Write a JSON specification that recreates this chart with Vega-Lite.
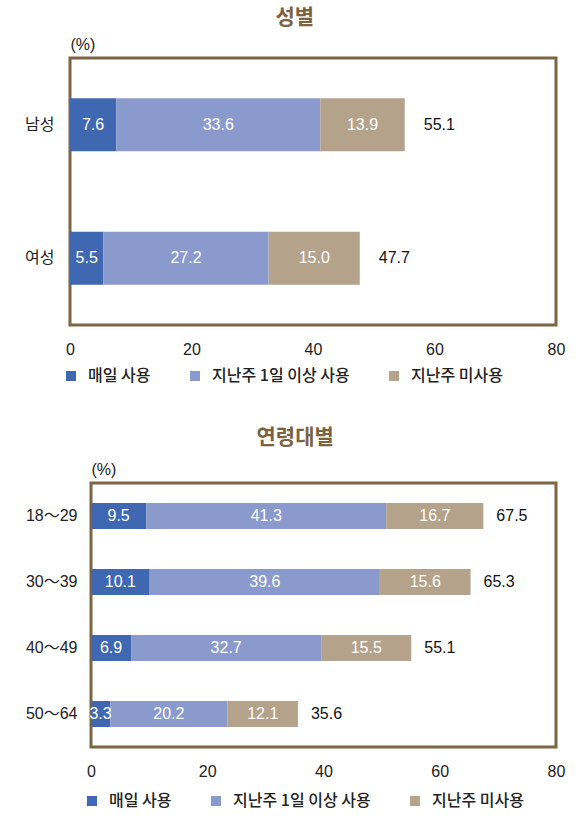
{
  "$schema": "https://vega.github.io/schema/vega-lite/v6.json",
  "padding": {"left": 16, "top": 5, "right": 5, "bottom": 5},
  "datasets": {
    "spacer": [{}],
    "gender": [
      {"group": "남성", "type": "매일 사용", "value": 7.6},
      {"group": "남성", "type": "지난주 1일 이상 사용", "value": 33.6},
      {"group": "남성", "type": "지난주 미사용", "value": 13.9},
      {"group": "여성", "type": "매일 사용", "value": 5.5},
      {"group": "여성", "type": "지난주 1일 이상 사용", "value": 27.2},
      {"group": "여성", "type": "지난주 미사용", "value": 15.0}
    ],
    "genderTotal": [
      {"group": "남성", "total": 55.1},
      {"group": "여성", "total": 47.7}
    ],
    "age": [
      {"group": "18～29", "type": "매일 사용", "value": 9.5},
      {"group": "18～29", "type": "지난주 1일 이상 사용", "value": 41.3},
      {"group": "18～29", "type": "지난주 미사용", "value": 16.7},
      {"group": "30～39", "type": "매일 사용", "value": 10.1},
      {"group": "30～39", "type": "지난주 1일 이상 사용", "value": 39.6},
      {"group": "30～39", "type": "지난주 미사용", "value": 15.6},
      {"group": "40～49", "type": "매일 사용", "value": 6.9},
      {"group": "40～49", "type": "지난주 1일 이상 사용", "value": 32.7},
      {"group": "40～49", "type": "지난주 미사용", "value": 15.5},
      {"group": "50～64", "type": "매일 사용", "value": 3.3},
      {"group": "50～64", "type": "지난주 1일 이상 사용", "value": 20.2},
      {"group": "50～64", "type": "지난주 미사용", "value": 12.1}
    ],
    "ageTotal": [
      {"group": "18～29", "total": 67.5},
      {"group": "30～39", "total": 65.3},
      {"group": "40～49", "total": 55.1},
      {"group": "50～64", "total": 35.6}
    ]
  },
  "config": {
    "font": "Liberation Sans, Noto Sans CJK KR",
    "view": {"stroke": "#7B6545", "strokeWidth": 3},
    "axis": {"grid": false, "domain": false, "ticks": false, "labelFontSize": 16, "labelColor": "#222222", "labelFont": "Liberation Sans, Noto Sans CJK KR"},
    "axisY": {"labelPadding": 16, "titleAngle": 0, "titleAlign": "left", "titleX": 0, "titleY": -14, "titleBaseline": "middle", "titleFontSize": 16, "titleFontWeight": "normal", "titleColor": "#222222"},
    "axisX": {"labelPadding": 16, "labelFlush": false},
    "title": {"fontSize": 21, "font": "Noto Sans CJK KR", "fontWeight": "bold", "color": "#7B6342", "anchor": "middle", "frame": "bounds", "offset": 8},
    "legend": {"orient": "none", "legendX": -7, "legendY": 310, "direction": "horizontal", "title": null, "padding": 0, "symbolType": "square", "symbolSize": 100, "symbolStrokeWidth": 0, "labelFontSize": 16, "labelFont": "Noto Sans CJK KR", "labelFontWeight": 500, "labelColor": "#222222", "labelOffset": 9, "columnPadding": 36}
  },
  "spacing": 39,
  "resolve": {"scale": {"color": "independent"}, "legend": {"color": "independent"}},
  "vconcat": [
    {
      "spacing": 0,
      "resolve": {"scale": {"color": "independent"}, "legend": {"color": "independent"}},
      "hconcat": [
        {
          "width": 1,
          "height": 1,
          "view": {"stroke": null},
          "data": {"name": "spacer"},
          "mark": {"type": "point", "opacity": 0},
          "encoding": {}
        },
        {
          "title": "성별",
          "width": 486,
          "height": 267,
          "data": {"name": "gender"},
          "encoding": {
            "y": {"field": "group", "type": "nominal", "sort": null, "title": "(%)", "scale": {"paddingInner": 0, "paddingOuter": 0}}
          },
          "layer": [
            {
              "mark": {"type": "bar", "size": 53},
              "encoding": {
                "x": {"field": "value", "type": "quantitative", "stack": "zero", "scale": {"domain": [0, 80], "nice": false}, "axis": {"values": [0, 20, 40, 60, 80], "title": null}},
                "color": {"field": "type", "type": "nominal", "scale": {"domain": ["매일 사용", "지난주 1일 이상 사용", "지난주 미사용"], "range": ["#4068B2", "#8A9ACC", "#B5A28A"]}},
                "order": {"field": "type", "type": "ordinal", "sort": "ascending"}
              }
            },
            {
              "mark": {"type": "text", "color": "white", "fontSize": 16, "baseline": "middle"},
              "encoding": {
                "x": {"field": "value", "type": "quantitative", "stack": "zero", "bandPosition": 0.5},
                "detail": {"field": "type"},
                "order": {"field": "type", "type": "ordinal", "sort": "ascending"},
                "text": {"field": "value", "type": "quantitative", "format": ".1f"}
              }
            },
            {
              "data": {"name": "genderTotal"},
              "mark": {"type": "text", "align": "left", "dx": 19, "fontSize": 16, "color": "#111111", "baseline": "middle"},
              "encoding": {
                "x": {"field": "total", "type": "quantitative"},
                "text": {"field": "total", "type": "quantitative", "format": ".1f"}
              }
            }
          ]
        }
      ]
    },
    {
      "spacing": 0,
      "resolve": {"scale": {"color": "independent"}, "legend": {"color": "independent"}},
      "hconcat": [
        {
          "width": 1,
          "height": 1,
          "view": {"stroke": null},
          "data": {"name": "spacer"},
          "mark": {"type": "point", "opacity": 0},
          "encoding": {}
        },
        {
          "title": {"text": "연령대별", "offset": 13},
          "width": 465,
          "height": 264,
          "data": {"name": "age"},
          "encoding": {
            "y": {"field": "group", "type": "nominal", "sort": null, "title": "(%)", "axis": {"labelPadding": 14}, "scale": {"paddingInner": 0, "paddingOuter": 0}}
          },
          "layer": [
            {
              "mark": {"type": "bar", "size": 26},
              "encoding": {
                "x": {"field": "value", "type": "quantitative", "stack": "zero", "scale": {"domain": [0, 80], "nice": false}, "axis": {"values": [0, 20, 40, 60, 80], "title": null}},
                "color": {"field": "type", "type": "nominal", "scale": {"domain": ["매일 사용", "지난주 1일 이상 사용", "지난주 미사용"], "range": ["#4068B2", "#8A9ACC", "#B5A28A"]}},
                "order": {"field": "type", "type": "ordinal", "sort": "ascending"}
              }
            },
            {
              "mark": {"type": "text", "color": "white", "fontSize": 16, "baseline": "middle"},
              "encoding": {
                "x": {"field": "value", "type": "quantitative", "stack": "zero", "bandPosition": 0.5},
                "detail": {"field": "type"},
                "order": {"field": "type", "type": "ordinal", "sort": "ascending"},
                "text": {"field": "value", "type": "quantitative", "format": ".1f"}
              }
            },
            {
              "data": {"name": "ageTotal"},
              "mark": {"type": "text", "align": "left", "dx": 13, "fontSize": 16, "color": "#111111", "baseline": "middle"},
              "encoding": {
                "x": {"field": "total", "type": "quantitative"},
                "text": {"field": "total", "type": "quantitative", "format": ".1f"}
              }
            }
          ]
        }
      ]
    }
  ]
}
